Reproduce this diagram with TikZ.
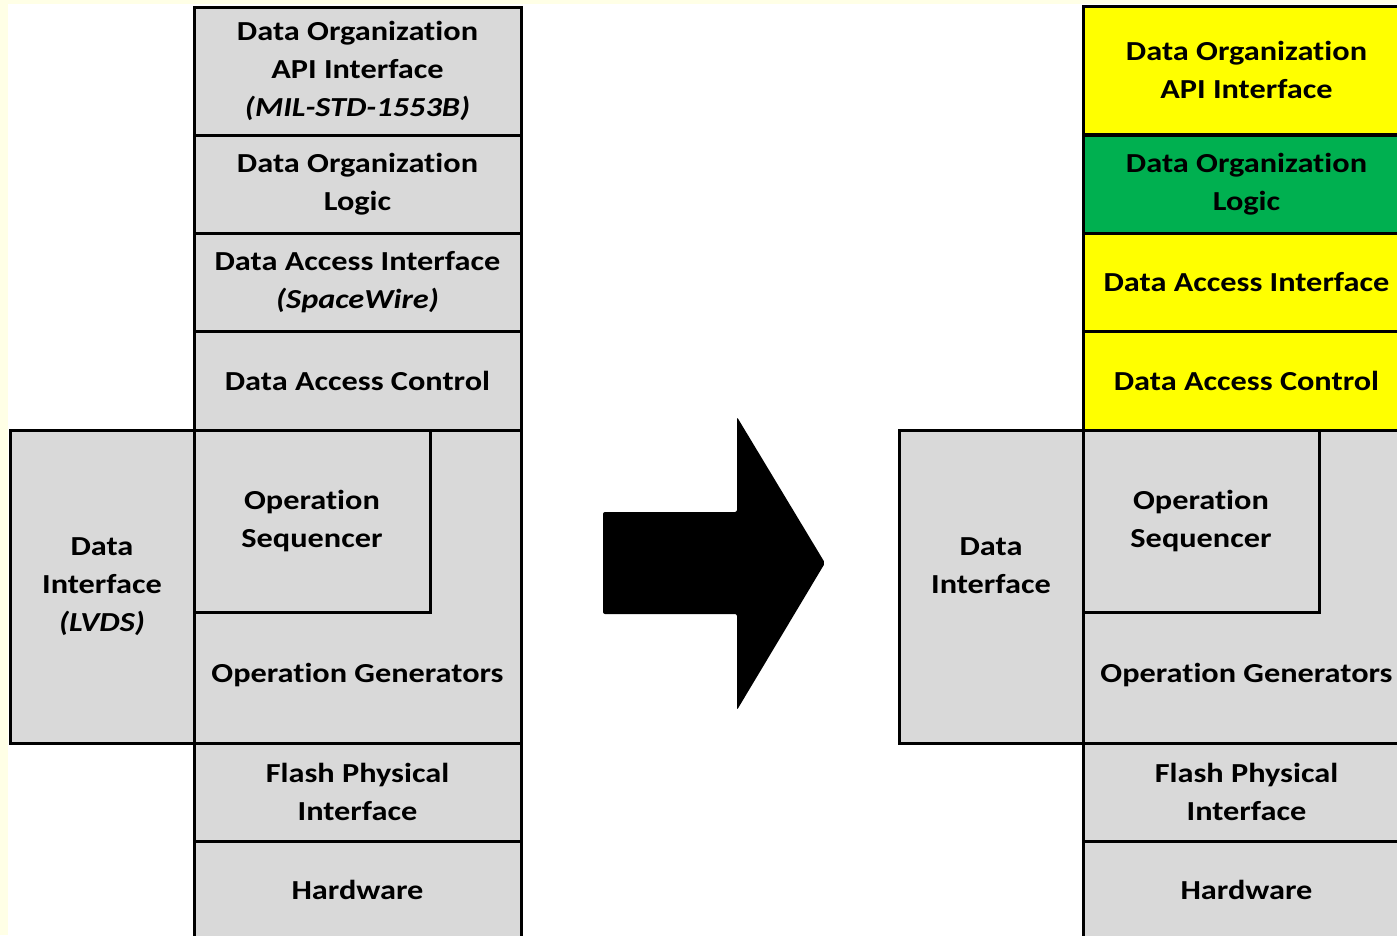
\documentclass[tikz,border=0pt]{standalone}
\usepackage{fontspec}
\setmainfont[Ligatures=NoCommon, FakeStretch=1.175]{Carlito}
\definecolor{cellgray}{HTML}{D9D9D9}
\definecolor{pagecream}{HTML}{FFFFE6}
\definecolor{hlyellow}{HTML}{FFFF00}
\definecolor{hlgreen}{HTML}{00B050}
\begin{document}
\begin{tikzpicture}[x=1pt,y=-1pt,
  layer/.style={draw=black, line width=3pt, fill=cellgray, inner sep=0pt,
    minimum width=327pt, align=center,
    font=\bfseries\fontsize{27.5}{38}\selectfont},
  lbl/.style={inner sep=0pt, align=center,
    font=\bfseries\fontsize{27.5}{38}\selectfont},
  bigarrow/.style={fill=black, rounded corners=2pt}]

% page and canvas
\useasboundingbox (0,0) rectangle (1397,935);
\fill[pagecream] (0,0) rectangle (1397,935);
\fill[white] (8,4) rectangle (1397,935);

% ---------- original stack ----------
\node[layer, minimum height=128pt] (api) at (357.5,71)
  {Data Organization\\API Interface\\\textit{(MIL-STD-1553B)}};
\node[layer, minimum height=98pt] (dol) at (357.5,184)
  {Data Organization\\Logic};
\node[layer, minimum height=98pt] (dai) at (357.5,282)
  {Data Access Interface\\\textit{(SpaceWire)}};
\node[layer, minimum height=99pt] (dac) at (357.5,380.5)
  {Data Access Control};
\node[layer, minimum height=313pt] (gen) at (357.5,586.5) {};
\node[layer, minimum width=236pt, minimum height=182pt] (seq) at (312,521)
  {Operation\\Sequencer};
\node[lbl] (gentxt) at (357.5,675) {Operation Generators};
\node[layer, minimum width=184pt, minimum height=313pt] (dif) at (102,586.5)
  {Data\\Interface\\\textit{(LVDS)}};
\node[layer, minimum height=98pt] (fpi) at (357.5,792)
  {Flash Physical\\Interface};
\node[layer, minimum height=98pt] (hw) at (357.5,890) {Hardware};

% ---------- transition arrow ----------
\fill[bigarrow] (603,512) -- (737,512) -- (737,417) -- (825,563)
  -- (737,710) -- (737,614) -- (603,614) -- cycle;

% ---------- revised stack ----------
\begin{scope}[shift={(889,0)}]
\node[layer, fill=hlyellow, minimum height=128pt] (api2) at (357.5,70)
  {Data Organization\\API Interface};
\node[layer, fill=hlgreen, minimum height=98pt] (dol2) at (357.5,184)
  {Data Organization\\Logic};
\node[layer, fill=hlyellow, minimum height=98pt] (dai2) at (357.5,282)
  {Data Access Interface};
\node[layer, fill=hlyellow, minimum height=99pt] (dac2) at (357.5,380.5)
  {Data Access Control};
\node[layer, minimum height=313pt] (gen2) at (357.5,586.5) {};
\node[layer, minimum width=236pt, minimum height=182pt] (seq2) at (312,521)
  {Operation\\Sequencer};
\node[lbl] (gentxt2) at (357.5,675) {Operation Generators};
\node[layer, minimum width=184pt, minimum height=313pt] (dif2) at (102,586.5) {};
\node[lbl] (diftxt2) at (102,566) {Data\\Interface};
\node[layer, minimum height=98pt] (fpi2) at (357.5,792)
  {Flash Physical\\Interface};
\node[layer, minimum height=98pt] (hw2) at (357.5,890) {Hardware};
\end{scope}
\end{tikzpicture}
\end{document}
